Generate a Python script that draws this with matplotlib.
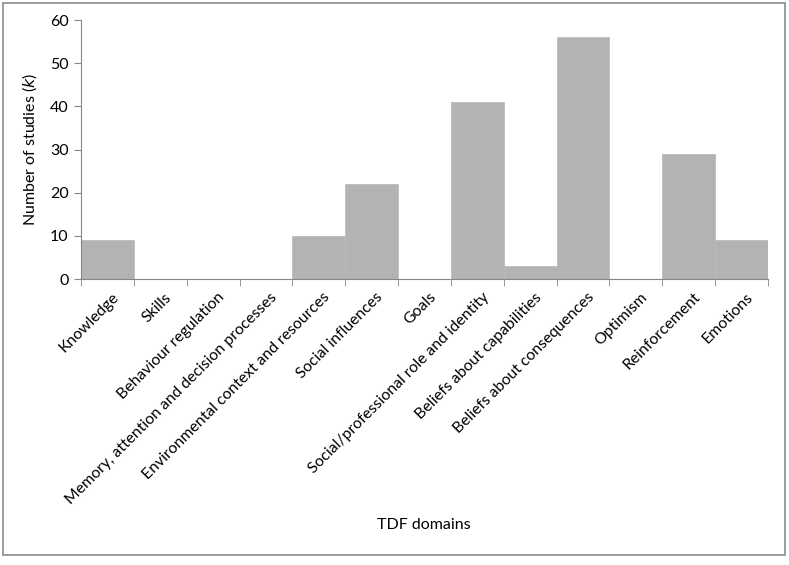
import matplotlib
matplotlib.use("Agg")
import matplotlib.pyplot as plt
from matplotlib.patches import Rectangle

plt.rcParams['font.family'] = ['Lato', 'DejaVu Sans']

domains = [
    "Knowledge", "Skills", "Behaviour regulation",
    "Memory, attention and decision processes",
    "Environmental context and resources", "Social influences", "Goals",
    "Social/professional role and identity", "Beliefs about capabilities",
    "Beliefs about consequences", "Optimism", "Reinforcement", "Emotions",
]
studies = [9, 0, 0, 0, 10, 22, 0, 41, 3, 56, 0, 29, 9]

axis_col = '#868686'

fig = plt.figure(figsize=(7.89, 5.65), dpi=100)
ax = fig.add_axes([0.1027, 0.506, 0.8707, 0.4584])

x = list(range(len(domains)))
ax.bar(x, studies, width=1.0, color='#b3b3b3', edgecolor='#b8b8b8', linewidth=0.5)

ax.set_xlim(-0.5, len(domains) - 0.5)
ax.set_ylim(0, 60)
ax.set_yticks(range(0, 61, 10))
ax.tick_params(axis='y', length=5, color=axis_col, labelsize=11.5, pad=4)

# category labels at bar centres, tick marks at boundaries
ax.set_xticks([i + 0.08 for i in x])
ax.set_xticklabels(domains, rotation=45, ha='right', rotation_mode='anchor', fontsize=11.3)
ax.tick_params(axis='x', which='major', length=0, pad=8)
ax.set_xticks([i - 0.5 for i in range(len(domains) + 1)], minor=True)
ax.tick_params(axis='x', which='minor', length=5, color=axis_col)

for s in ['top', 'right']:
    ax.spines[s].set_visible(False)
for s in ['left', 'bottom']:
    ax.spines[s].set_color(axis_col)

ax.set_ylabel("Number of studies ($\\it{k}$)", fontsize=11.5, labelpad=8)
fig.text(0.537, 0.07, "TDF domains", ha='center', va='center', fontsize=11.5)

# outer frame
fig.patches.append(Rectangle((0.004, 0.018), 0.991, 0.977, transform=fig.transFigure,
                             fill=False, edgecolor='#8c8c8c', linewidth=1.2))

fig.savefig("out.png", dpi=100)
